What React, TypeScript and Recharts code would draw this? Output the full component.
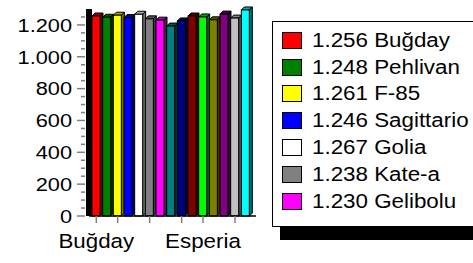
import React from 'react';
import { BarChart, Bar, XAxis, YAxis, Cell } from 'recharts';

const varieties = [
    'Buğday', 'Pehlivan', 'F-85', 'Sagittario', 'Golia', 'Kate-a', 'Gelibolu',
    'Çeşit 8', 'Çeşit 9', 'Çeşit 10', 'Esperia', 'Çeşit 12', 'Çeşit 13', 'Çeşit 14', 'Çeşit 15',
];
const yields = [1256, 1248, 1261, 1246, 1267, 1238, 1230, 1193, 1225, 1256, 1250, 1232, 1268, 1243, 1294];
const colors = [
    '#ff0000', '#008000', '#ffff00', '#0000ff', '#ffffff', '#808080', '#ff00ff',
    '#008080', '#000080', '#800000', '#00ff00', '#808000', '#800080', '#c0c0c0', '#00ffff',
];
const legendCount = 7;
const xLabels = ['Buğday', 'Esperia'];
const xTickMarks = [0, 2, 5, 8, 10, 13];
const yTicks = [0, 50, 100, 150, 200, 250, 300, 350, 400, 450, 500, 550, 600, 650, 700, 750, 800, 850, 900, 950, 1000, 1050, 1100, 1150, 1200, 1250];
const wallTicks = [0, 200, 400, 600, 800, 1000, 1200];

const data = varieties.map((name, i) => ({ name, value: yields[i] }));

const FONT = '"Liberation Sans", Arial, sans-serif';
const STRETCH = 1.146; // the original text is a bit wider than Arial

const shade = (hex: string, k: number) => {
    const n = parseInt(hex.slice(1), 16);
    const r = Math.round(((n >> 16) & 255) * k);
    const g = Math.round(((n >> 8) & 255) * k);
    const b = Math.round((n & 255) * k);
    return `rgb(${r},${g},${b})`;
};

const Bar3D = (props: any) => {
    const { x, y, width, height, fill } = props;
    const d = 3;
    return (
        <g stroke="#000" strokeWidth={1}>
            <polygon points={`${x + width},${y} ${x + width + d},${y - d} ${x + width + d},${y + height - d} ${x + width},${y + height}`} fill={shade(fill, 0.45)} />
            <polygon points={`${x},${y} ${x + d},${y - d} ${x + width + d},${y - d} ${x + width},${y}`} fill={shade(fill, 0.65)} />
            <rect x={x} y={y} width={width} height={height} fill={fill} />
        </g>
    );
};

const YTick = (props: any) => {
    const { x, y, payload } = props;
    const v = payload.value;
    const major = v % 200 === 0;
    return (
        <g>
            <line x1={x + (major ? -4 : 0)} y1={y} x2={x + 4} y2={y} stroke="#808080" strokeWidth={1.5} />
            {major && (
                <text
                    transform={`translate(${x - 9},${y}) scale(${STRETCH},1)`}
                    dy="0.36em"
                    textAnchor="end"
                    fontSize={19}
                    fontFamily={FONT}
                    fill="#000"
                >
                    {v.toLocaleString('tr-TR')}
                </text>
            )}
        </g>
    );
};

const WallTick = (props: any) => {
    const { x, y } = props;
    return <line x1={x + 6} y1={y - 4} x2={x + 11} y2={y - 4} stroke="#808080" strokeWidth={1.5} />;
};

const XTick = (props: any) => {
    const { x, y, index, payload } = props;
    const showMark = xTickMarks.includes(index);
    const showLabel = xLabels.includes(payload.value);
    return (
        <g>
            {showMark && <line x1={x} y1={y - 8} x2={x} y2={y - 1} stroke="#808080" strokeWidth={1.5} />}
            {showLabel && (
                <text
                    transform={`translate(${x},${y + 24}) scale(${STRETCH},1)`}
                    textAnchor="middle"
                    fontSize={19.5}
                    fontFamily={FONT}
                    fill="#000"
                >
                    {payload.value}
                </text>
            )}
        </g>
    );
};

const LegendBox = () => (
    <div
        style={{
            position: 'absolute',
            left: 272,
            top: 21,
            width: 210,
            height: 206,
            border: '1px solid #000',
            background: '#fff',
            boxShadow: '8px 13px 0 #000',
            boxSizing: 'border-box',
            padding: '5px 0 0 9px',
            fontFamily: FONT,
            fontSize: 19.5,
        }}
    >
        {varieties.slice(0, legendCount).map((name, i) => (
            <div key={name} style={{ display: 'flex', alignItems: 'center', height: 26.8, whiteSpace: 'nowrap' }}>
                <span
                    style={{
                        display: 'inline-block',
                        flex: 'none',
                        width: 20,
                        height: 17,
                        background: colors[i],
                        border: '1.5px solid #000',
                        marginRight: 10,
                        boxSizing: 'border-box',
                    }}
                />
                <span style={{ display: 'inline-block', transform: `scaleX(${STRETCH})`, transformOrigin: 'left center' }}>
                    {(yields[i] / 1000).toFixed(3)} {name}
                </span>
            </div>
        ))}
    </div>
);

export default function App() {
    return (
        <div style={{ position: 'absolute', left: 0, top: 0, width: 473, height: 263, background: '#fff', overflow: 'hidden' }}>
            <BarChart
                width={473}
                height={263}
                data={data}
                margin={{ top: 9, right: 197, left: 0, bottom: 0 }}
                barCategoryGap={0}
                barSize={8}
            >
                <XAxis
                    dataKey="name"
                    height={47}
                    interval={0}
                    padding={{ left: 2, right: 5 }}
                    axisLine={{ stroke: '#000', strokeWidth: 1.5 }}
                    tickLine={false}
                    tick={<XTick />}
                />
                <YAxis
                    width={89}
                    domain={[0, 1300]}
                    ticks={yTicks}
                    interval={0}
                    axisLine={{ stroke: '#000', strokeWidth: 6 }}
                    tickLine={false}
                    tick={<YTick />}
                />
                <YAxis
                    yAxisId="wall"
                    orientation="right"
                    width={20}
                    domain={[0, 1300]}
                    ticks={wallTicks}
                    interval={0}
                    axisLine={false}
                    tickLine={false}
                    tick={<WallTick />}
                />
                <Bar dataKey="value" shape={<Bar3D />} isAnimationActive={false}>
                    {data.map((d, i) => (
                        <Cell key={d.name} fill={colors[i]} />
                    ))}
                </Bar>
            </BarChart>
            <LegendBox />
        </div>
    );
}
